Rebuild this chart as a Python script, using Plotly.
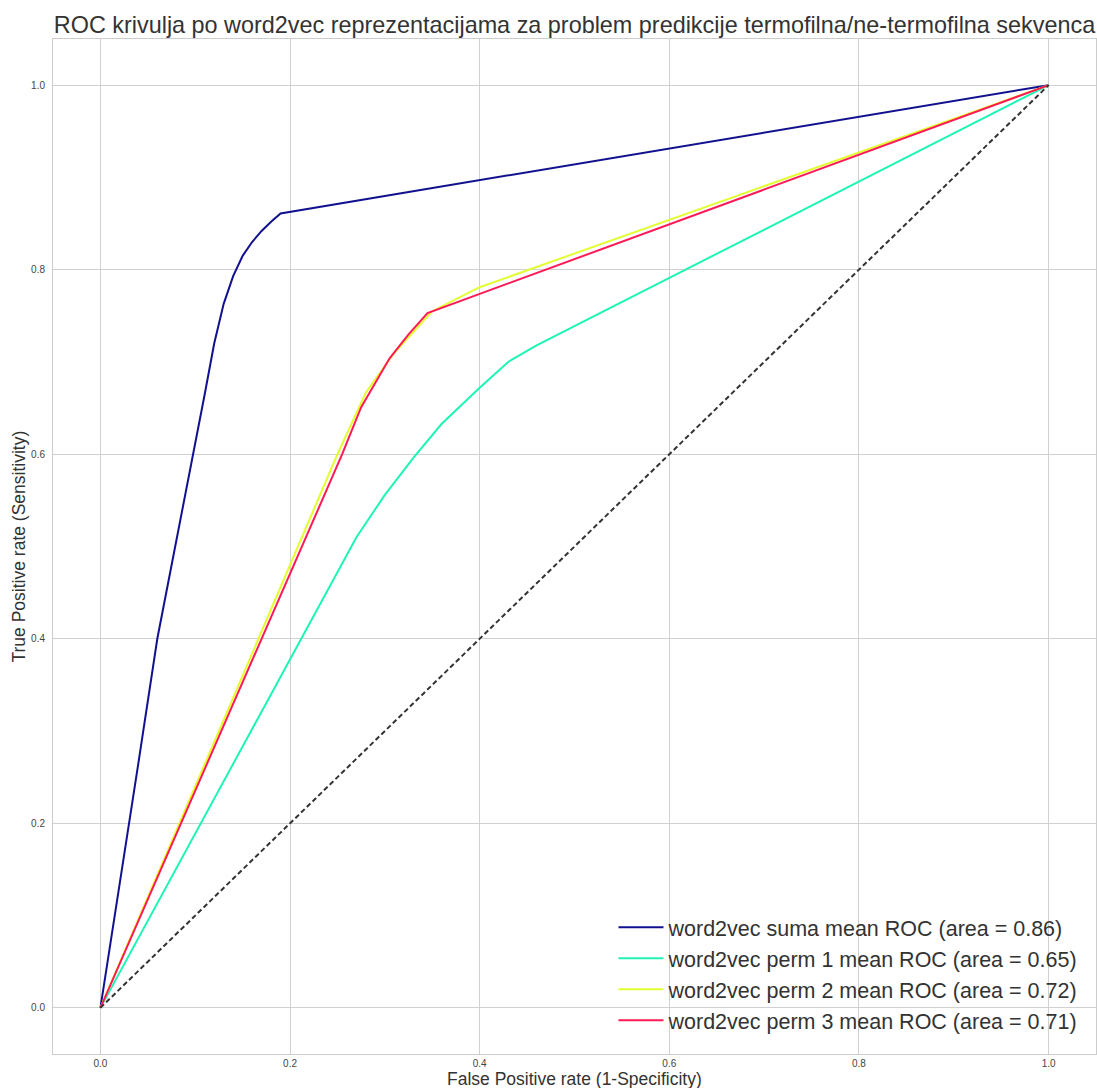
import plotly.graph_objects as go

title = "ROC krivulja po word2vec reprezentacijama za problem predikcije termofilna/ne-termofilna sekvenca"
x_title = "False Positive rate (1-Specificity)"
y_title = "True Positive rate (Sensitivity)"

names = [
    "word2vec suma mean ROC (area = 0.86)",
    "word2vec perm 1 mean ROC (area = 0.65)",
    "word2vec perm 2 mean ROC (area = 0.72)",
    "word2vec perm 3 mean ROC (area = 0.71)",
]
colors = ["#11118f", "#1ef5b4", "#e2ff30", "#ff1a55"]

fpr_suma = [0.0, 0.02, 0.04, 0.06, 0.08, 0.10, 0.11, 0.12, 0.13, 0.14, 0.15, 0.16, 0.17, 0.18, 0.19, 1.0]
tpr_suma = [0.0, 0.13, 0.265, 0.40, 0.505, 0.61, 0.665, 0.72, 0.763, 0.793, 0.815, 0.830, 0.842, 0.852, 0.861, 1.0]

fpr_p1 = [0.0, 0.27, 0.30, 0.33, 0.36, 0.40, 0.43, 0.46, 1.0]
tpr_p1 = [0.0, 0.51, 0.556, 0.596, 0.633, 0.672, 0.70, 0.718, 1.0]

fpr_p2 = [0.0, 0.25, 0.28, 0.31, 0.35, 0.40, 1.0]
tpr_p2 = [0.0, 0.60, 0.667, 0.71, 0.755, 0.781, 1.0]

fpr_p3 = [0.0, 0.255, 0.275, 0.305, 0.325, 0.345, 1.0]
tpr_p3 = [0.0, 0.60, 0.651, 0.704, 0.73, 0.753, 1.0]

diag = [0.0, 1.0]

tick_vals = [0.0, 0.2, 0.4, 0.6, 0.8, 1.0]
tick_text = ["0.0", "0.2", "0.4", "0.6", "0.8", "1.0"]

FONT = "Liberation Sans, Arial, sans-serif"

fig = go.Figure()
series = [(fpr_suma, tpr_suma), (fpr_p1, tpr_p1), (fpr_p2, tpr_p2), (fpr_p3, tpr_p3)]
for (xs, ys), name, col in zip(series, names, colors):
    fig.add_trace(go.Scatter(x=xs, y=ys, mode="lines", name=name,
                             line=dict(color=col, width=2)))
fig.add_trace(go.Scatter(x=diag, y=diag, mode="lines", showlegend=False,
                         line=dict(color="#333333", width=2, dash="5px,3px")))

axis_common = dict(
    range=[-0.05, 1.05], tickvals=tick_vals, ticktext=tick_text,
    showgrid=True, gridcolor="#d0d0d0", gridwidth=1, zeroline=False,
    showline=True, linecolor="#cccccc", linewidth=1, mirror=True,
    tickfont=dict(family=FONT, size=10, color="#444444"), ticks="",
)

fig.update_layout(
    width=1097, height=1088,
    paper_bgcolor="white", plot_bgcolor="white",
    margin=dict(l=53, r=1, t=39, b=34),
    title=dict(text=title, xref="paper", x=0.5, xanchor="center", y=0.977, yanchor="middle",
               font=dict(family=FONT, size=23.4, color="#333333")),
    xaxis=dict(**axis_common, ticklabelstandoff=0),
    yaxis=dict(**axis_common, ticklabelstandoff=5),
    legend=dict(x=0.988, y=0.013, xanchor="right", yanchor="bottom",
                bgcolor="rgba(0,0,0,0)", borderwidth=0,
                font=dict(family=FONT, size=21.5, color="#333333"),
                itemwidth=45, tracegroupgap=0),
    showlegend=True,
    annotations=[
        dict(text=x_title, xref="paper", yref="paper", x=0.5, y=0,
             xanchor="center", yanchor="middle", yshift=-25, showarrow=False,
             font=dict(family=FONT, size=17.5, color="#333333")),
        dict(text=y_title, xref="paper", yref="paper", x=0, y=0.5,
             xanchor="center", yanchor="middle", xshift=-35, textangle=-90,
             showarrow=False, font=dict(family=FONT, size=17.5, color="#333333")),
    ],
)

fig.write_html("out.html",
               config={"displayModeBar": False},
               post_script="document.body.style.margin='0px';document.body.style.overflow='hidden';")
